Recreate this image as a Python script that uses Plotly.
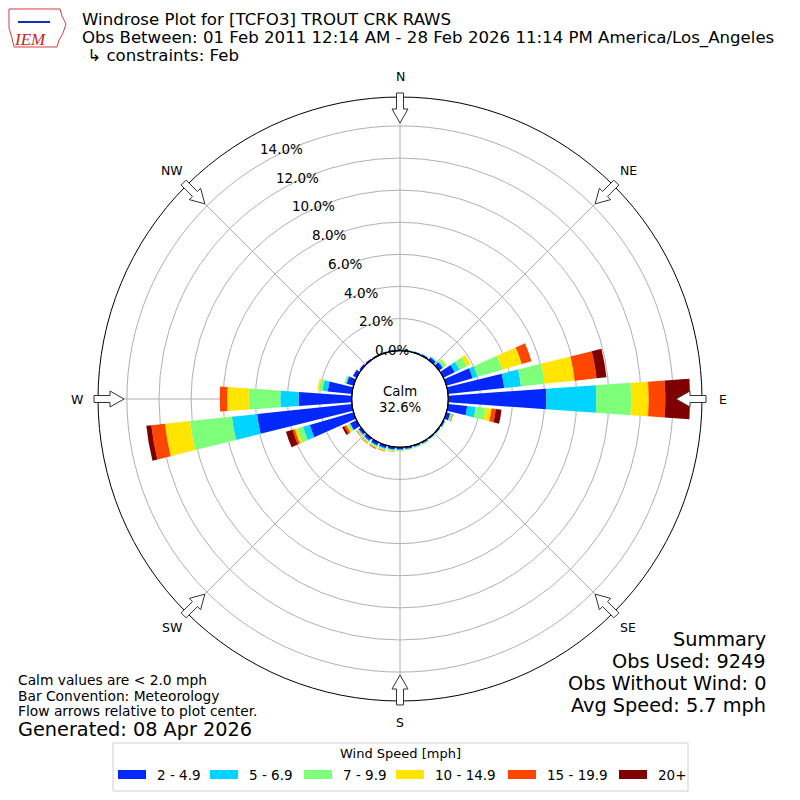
import math
import plotly.graph_objects as go

# direction bins (degrees, meteorological) and frequency (%) per speed bin
directions = list(range(0, 360, 10))
speed_bins = ["2 - 4.9", "5 - 6.9", "7 - 9.9", "10 - 14.9", "15 - 19.9", "20+"]
bin_colors = ["#0328fd", "#00d4ff", "#7dff7a", "#ffe500", "#ff4600", "#7f0000"]

spd_2_5 = [0.06, 0.06, 0.07, 0.10, 0.20, 0.28, 0.79, 1.70, 3.52, 6.11, 1.20, 0.25,
           0.10, 0.08, 0.08, 0.10, 0.10, 0.12, 0.14, 0.15, 0.18, 0.20, 0.20, 0.18,
           0.45, 2.84, 5.94, 3.31, 1.52, 0.45, 0.25, 0.12, 0.10, 0.08, 0.07, 0.07]
spd_5_7 = [0.02, 0.02, 0.02, 0.03, 0.04, 0.08, 0.34, 0.31, 1.05, 3.11, 0.53, 0.05,
           0.03, 0.02, 0.02, 0.03, 0.03, 0.04, 0.05, 0.05, 0.06, 0.06, 0.06, 0.05,
           0.05, 0.44, 1.58, 1.14, 0.32, 0.05, 0.00, 0.00, 0.00, 0.00, 0.00, 0.00]
spd_7_10 = [0.00, 0.00, 0.01, 0.02, 0.06, 0.18, 0.50, 1.60, 1.47, 2.17, 0.63, 0.05,
            0.03, 0.02, 0.02, 0.03, 0.03, 0.04, 0.04, 0.05, 0.06, 0.07, 0.07, 0.06,
            0.10, 0.37, 2.62, 1.97, 0.20, 0.10, 0.00, 0.00, 0.00, 0.00, 0.00, 0.00]
spd_10_15 = [0.00, 0.00, 0.00, 0.00, 0.00, 0.06, 0.25, 1.27, 1.89, 1.09, 0.36, 0.04,
             0.00, 0.00, 0.00, 0.02, 0.02, 0.02, 0.03, 0.05, 0.06, 0.06, 0.06, 0.05,
             0.12, 0.16, 1.57, 1.34, 0.11, 0.00, 0.00, 0.00, 0.00, 0.00, 0.00, 0.00]
spd_15_20 = [0.00, 0.00, 0.00, 0.00, 0.00, 0.00, 0.00, 0.63, 1.37, 1.04, 0.27, 0.05,
             0.00, 0.00, 0.00, 0.00, 0.00, 0.00, 0.00, 0.02, 0.04, 0.05, 0.05, 0.03,
             0.14, 0.15, 0.85, 0.46, 0.00, 0.00, 0.00, 0.00, 0.00, 0.00, 0.00, 0.00]
spd_20_up = [0.00, 0.00, 0.00, 0.00, 0.00, 0.00, 0.00, 0.00, 0.62, 1.54, 0.36, 0.00,
             0.00, 0.00, 0.00, 0.00, 0.00, 0.00, 0.00, 0.00, 0.00, 0.01, 0.00, 0.00,
             0.14, 0.42, 0.32, 0.00, 0.00, 0.00, 0.00, 0.00, 0.00, 0.00, 0.00, 0.00]
series = [spd_2_5, spd_5_7, spd_7_10, spd_10_15, spd_15_20, spd_20_up]

radial_ticks = [0, 2, 4, 6, 8, 10, 12, 14]
compass = ["N", "NE", "E", "SE", "S", "SW", "W", "NW"]
calm_pct = 32.6

title_lines = [
    "Windrose Plot for [TCFO3] TROUT CRK RAWS",
    "Obs Between: 01 Feb 2011 12:14 AM - 28 Feb 2026 11:14 PM America/Los_Angeles",
    " \u21b3 constraints: Feb",
]
notes = ["Calm values are < 2.0 mph", "Bar Convention: Meteorology",
         "Flow arrows relative to plot center."]
generated = "Generated: 08 Apr 2026"
summary = ["Summary", "Obs Used: 9249", "Obs Without Wind: 0", "Avg Speed: 5.7 mph"]

FONT = "DejaVu Sans"
OFF = 8                      # page body margin
W = H = 800 - OFF
CX, CY, R = 400, 399, 302    # polar circle in page pixels
HOLE = 48.3
RMAX = 15.8


def px(x, y):
    return (x - OFF) / W, 1 - (y - OFF) / H


def text(x, y, s, size, xa="left", ya="middle", **kw):
    fx, fy = px(x, y)
    return dict(x=fx, y=fy, xref="paper", yref="paper", text=s, showarrow=False,
                xanchor=xa, yanchor=ya, font=dict(size=size, **kw))


fig = go.Figure()
for name, vals, col in zip(speed_bins, series, bin_colors):
    fig.add_trace(go.Barpolar(r=vals, theta=directions, width=8, name=name,
                              marker=dict(color=col, line=dict(width=0)),
                              showlegend=False))

x0, y0 = px(CX - R, CY + R)
x1, y1 = px(CX + R, CY - R)

shapes = []
# hollow flow arrows pointing to the center
for k in range(8):
    b = math.radians(k * 45)
    ux, uy = math.sin(b), -math.cos(b)
    vx, vy = math.cos(b), math.sin(b)
    pts = [(306, -3.5), (290, -3.5), (290, -8), (276, 0), (290, 8), (290, 3.5), (306, 3.5)]
    path = ""
    for i, (rr, w) in enumerate(pts):
        x, y = px(CX + ux * rr + vx * w, CY + uy * rr + vy * w)
        path += ("M" if i == 0 else "L") + f"{x:.5f},{y:.5f} "
    shapes.append(dict(type="path", path=path + "Z", xref="paper", yref="paper",
                       fillcolor="white", line=dict(color="#333333", width=1)))
# calm circle
hx0, hy0 = px(CX - HOLE, CY + HOLE)
hx1, hy1 = px(CX + HOLE, CY - HOLE)
shapes.append(dict(type="circle", xref="paper", yref="paper", x0=hx0, y0=hy0,
                   x1=hx1, y1=hy1, line=dict(color="black", width=1.2)))

# IEM logo (rough outline)
logo = [(9, 9), (60, 9), (62, 16), (66, 24), (63, 33), (59, 40), (57, 47), (14, 47),
        (12, 38), (9, 28)]
lp = " ".join(("M" if i == 0 else "L") + "%.5f,%.5f" % px(*p) for i, p in enumerate(logo))
shapes.append(dict(type="path", path=lp + " Z", xref="paper", yref="paper",
                   line=dict(color="#d04040", width=1)))
bl = [(18, 22), (50, 22)]
shapes.append(dict(type="path", xref="paper", yref="paper", line=dict(color="#1030c0", width=2),
                   path="M%.5f,%.5f L%.5f,%.5f" % (*px(*bl[0]), *px(*bl[1]))))

# legend box, swatches
lg_x = [118, 210, 304, 396, 508, 619]
lb0, lb1 = px(113, 791)
lb2, lb3 = px(688, 743)
shapes.append(dict(type="rect", xref="paper", yref="paper", x0=lb0, y0=lb1, x1=lb2, y1=lb3,
                   line=dict(color="#d0d0d0", width=1), fillcolor="white", layer="below"))
for xs, col in zip(lg_x, bin_colors):
    a0, a1 = px(xs, 779)
    a2, a3 = px(xs + 28, 770)
    shapes.append(dict(type="rect", xref="paper", yref="paper", x0=a0, y0=a1, x1=a2, y1=a3,
                       line=dict(width=0), fillcolor=col))

ann = []
for k, lab in enumerate(compass):
    b = math.radians(k * 45)
    ann.append(text(CX + 323 * math.sin(b), CY - 323 * math.cos(b), lab, 12.5, xa="center"))
for v in radial_ticks:
    ann.append(text(392 - 7.86 * v, 350 - 14.36 * v, f"{v:.1f}%", 13.5, xa="center"))
ann.append(text(CX, CY - 8, "Calm", 13.3, xa="center"))
ann.append(text(CX, CY + 8, f"{calm_pct}%", 13.3, xa="center"))

for i, s in enumerate(title_lines):
    ann.append(text(80, 20 + 18 * i, s, 16.6))
for i, s in enumerate(notes):
    ann.append(text(16, 680 + 15.5 * i, s, 13.8))
ann.append(text(16, 729, generated, 19.3))
for i, s in enumerate(summary):
    ann.append(text(768, 639 + 22 * i, s, 19.3, xa="right"))
ann.append(text(30, 39, "<i>IEM</i>", 17, xa="center", color="#cc2222",
                family="Liberation Serif"))

ann.append(text(400, 753, "Wind Speed [mph]", 13, xa="center"))
for xs, lab in zip(lg_x, speed_bins):
    ann.append(text(xs + 37, 775, lab, 13.5))

fig.update_layout(
    width=W, height=H, margin=dict(l=0, r=0, t=0, b=0),
    paper_bgcolor="white", plot_bgcolor="white",
    font=dict(family=FONT, color="black"),
    showlegend=False,
    polar=dict(
        domain=dict(x=[x0, x1], y=[y0, y1]),
        hole=HOLE / R, bgcolor="white", barmode="stack",
        angularaxis=dict(direction="clockwise", rotation=90, tickvals=list(range(0, 360, 45)),
                         showticklabels=False, ticks="", showline=True, linecolor="black",
                         linewidth=1, gridcolor="#b0b0b0", gridwidth=1),
        radialaxis=dict(range=[0, RMAX], tickvals=radial_ticks, showticklabels=False,
                        showline=False, ticks="", gridcolor="#b0b0b0", gridwidth=1),
    ),
    shapes=shapes, annotations=ann,
)

fig.write_html("out.html")
